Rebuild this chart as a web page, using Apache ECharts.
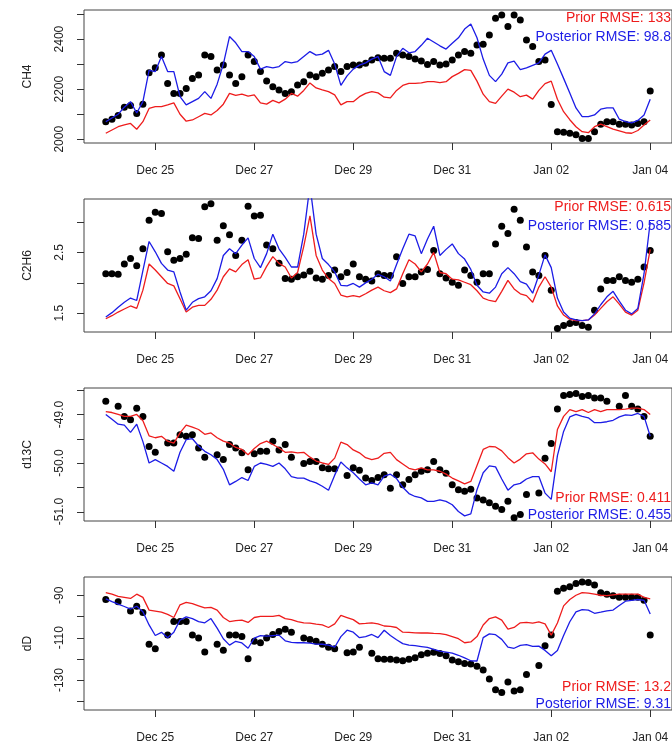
<!DOCTYPE html>
<html>
<head>
<meta charset="utf-8">
<script src="https://cdn.jsdelivr.net/npm/echarts@6/dist/echarts.min.js"></script>
<style>
  html, body { margin: 0; padding: 0; background: #fff; }
  #chart { width: 672px; height: 744px; }
</style>
</head>
<body>
<div id="chart"></div>
<script>
// x is days since Dec 24 00:00, one value every 3 hours
const tickDays = [1, 3, 5, 7, 9, 11];
const tickLabels = ['Dec 25', 'Dec 27', 'Dec 29', 'Dec 31', 'Jan 02', 'Jan 04'];

// CH4
const ch4Obs = [2070,2080,2095,2128,2135,2103,2140,2265,2285,2336,2223,2183,2183,2203,2243,2256,2336,2330,2276,2296,2256,2223,2250,2336,2310,2270,2233,2210,2197,2183,2190,2217,2230,2256,2250,2263,2276,2290,2270,2290,2296,2296,2303,2316,2325,
  2323,2323,2343,2336,2330,2320,2312,2298,2310,2296,2300,2316,2336,2350,2343,2376,2379,2416,2483,2496,2450,2496,2476,2396,2370,2310,2316,2139,2030,2028,2024,2018,2003,2003,2030,2060,2070,2070,2060,2060,2057,2063,2070,2193];
const ch4Prior = [2024,2037,2050,2057,2063,2040,2070,2123,2130,2130,2137,2145,2100,2072,2077,2090,2103,2097,2115,2140,2183,2175,2180,2172,2177,2145,2140,2155,2145,2160,2183,2172,2195,2225,2205,2197,2190,2177,2137,2150,2150,2170,2183,2190,2185,
  2168,2165,2195,2215,2223,2223,2225,2230,2230,2226,2230,2250,2263,2278,2275,2232,2180,2150,2143,2172,2200,2188,2170,2176,2160,2195,2222,2232,2160,2110,2078,2050,2030,2026,2050,2060,2050,2040,2033,2026,2024,2035,2057,2077];
const ch4Post = [2070,2085,2100,2128,2150,2105,2150,2275,2270,2330,2270,2270,2170,2137,2150,2163,2190,2163,2220,2300,2410,2385,2350,2350,2330,2280,2290,2285,2290,2310,2305,2310,2330,2350,2336,2340,2355,2300,2215,2253,2280,2296,2305,2320,2330,
  2270,2255,2330,2363,2345,2350,2375,2403,2388,2373,2360,2383,2405,2440,2460,2405,2320,2255,2230,2260,2305,2312,2278,2285,2295,2305,2340,2355,2300,2243,2185,2125,2090,2090,2097,2120,2125,2125,2080,2070,2065,2075,2097,2160];

// C2H6
const c2h6Obs = [2.15,2.15,2.14,2.31,2.40,2.28,2.56,3.03,3.16,3.14,2.51,2.37,2.40,2.47,2.74,2.73,3.25,3.30,2.70,2.94,2.79,2.45,2.70,3.26,3.10,3.11,2.62,2.56,2.32,2.07,2.06,2.10,2.13,2.19,2.08,2.06,2.12,2.21,2.10,2.17,2.31,2.10,2.06,2.03,2.15,
  2.12,2.12,2.43,1.99,2.10,2.10,2.18,2.22,2.53,2.15,2.08,2.01,1.96,2.21,2.12,2.01,2.15,2.15,2.64,2.93,2.81,3.21,3.03,2.59,2.18,2.12,2.45,1.88,1.25,1.30,1.33,1.35,1.30,1.27,1.55,1.90,2.04,2.04,2.10,2.04,2.01,2.06,2.26,2.53];
const c2h6Prior = [1.41,1.46,1.52,1.57,1.62,1.58,1.88,2.31,2.21,2.10,1.99,1.95,1.74,1.52,1.60,1.63,1.63,1.73,1.88,2.10,2.23,2.18,2.30,2.38,2.06,2.08,2.27,2.43,2.32,2.26,2.08,2.17,2.60,3.10,2.45,2.21,2.07,1.99,1.80,1.77,1.79,1.77,1.82,1.88,1.93,
  1.87,1.84,1.90,2.15,2.38,2.31,2.18,2.31,2.50,2.17,2.15,2.06,2.05,2.01,1.97,1.87,1.75,1.71,1.69,1.86,2.04,1.90,1.82,1.79,1.68,1.93,2.10,1.93,1.62,1.47,1.40,1.38,1.38,1.39,1.47,1.58,1.69,1.77,1.65,1.52,1.47,1.55,2.00,2.55];
const c2h6Post = [1.44,1.51,1.60,1.68,1.75,1.71,2.20,2.68,2.51,2.32,2.21,2.18,1.85,1.55,1.68,1.74,1.77,1.87,2.07,2.45,2.56,2.48,2.62,2.74,2.40,2.25,2.48,2.80,2.56,2.42,2.26,2.26,2.80,3.60,2.80,2.40,2.30,2.18,1.96,1.95,1.99,1.93,2.00,2.06,2.14,
  2.10,2.03,2.30,2.56,2.80,2.77,2.48,2.72,2.93,2.45,2.55,2.64,2.48,2.39,2.22,1.96,1.85,1.83,1.93,2.15,2.25,2.15,2.02,1.98,1.83,2.13,2.46,2.25,1.75,1.52,1.42,1.39,1.38,1.39,1.49,1.64,1.77,1.86,1.70,1.55,1.49,1.58,2.15,3.00];

// d13C
const d13cObs = [-48.73,null,-48.83,-49.04,-49.11,-48.87,-49.04,-49.66,-49.78,null,-49.59,-49.59,-49.42,-49.45,-49.42,-49.69,-49.88,null,-49.83,-49.93,-49.62,-49.69,-49.79,-50.14,-49.81,-49.76,-49.76,-49.55,-49.73,-49.62,-49.88,null,-50.01,-49.97,-49.97,-50.10,-50.12,-50.12,null,-50.26,-50.10,-50.15,-50.31,-50.36,-50.30,
  -50.24,-50.52,-50.24,-50.45,-50.34,-50.24,-50.17,-50.14,-49.97,-50.14,-50.21,-50.45,-50.55,-50.58,-50.54,-50.72,-50.76,-50.82,-50.89,-50.96,-50.79,-51.13,-51.06,-50.65,null,-50.62,-49.90,-49.60,-48.89,-48.61,-48.59,-48.57,-48.63,-48.61,-48.66,-48.66,-48.73,null,-48.83,-48.61,-48.83,-48.89,-49.04,-49.45];
const d13cPrior = [-48.94,-48.96,-49.00,-49.04,-49.04,-49.00,-49.13,-49.44,-49.48,-49.45,-49.55,-49.59,-49.38,-49.22,-49.26,-49.31,-49.41,-49.38,-49.48,-49.55,-49.59,-49.68,-49.72,-49.83,-49.70,-49.60,-49.55,-49.62,-49.69,-49.78,-49.77,-49.79,-49.78,-49.88,-49.96,-50.00,-50.03,-49.90,-49.57,-49.62,-49.73,-49.79,-49.89,-49.93,-49.90,
  -49.80,-49.78,-49.93,-50.02,-50.11,-50.14,-50.10,-50.14,-50.14,-50.17,-50.23,-50.31,-50.37,-50.43,-50.38,-50.05,-49.72,-49.66,-49.67,-49.75,-49.89,-50.00,-49.92,-49.81,-49.79,-49.92,-50.02,-50.18,-49.31,-49.04,-48.90,-48.94,-48.90,-48.96,-48.90,-48.94,-48.90,-48.90,-48.90,-48.89,-48.87,-48.87,-48.90,-49.00];
const d13cPost = [-49.00,-49.10,-49.20,-49.22,-49.37,-49.20,-49.56,-50.00,-49.93,-50.00,-50.07,-50.17,-49.78,-49.52,-49.50,-49.65,-49.76,-49.83,-49.93,-50.13,-50.45,-50.38,-50.30,-50.36,-50.07,-50.00,-50.03,-50.07,-50.00,-50.12,-50.28,-50.31,-50.31,-50.37,-50.41,-50.48,-50.56,-50.25,-49.98,-50.10,-50.20,-50.33,-50.45,-50.41,-50.45,
  -50.27,-50.23,-50.32,-50.50,-50.63,-50.69,-50.72,-50.79,-50.79,-50.76,-50.79,-50.86,-51.00,-51.09,-51.05,-50.55,-50.20,-50.06,-50.08,-50.33,-50.56,-50.45,-50.42,-50.33,-50.28,-50.28,-50.62,-50.75,-49.85,-49.35,-49.05,-49.00,-49.04,-49.07,-49.17,-49.17,-49.15,-49.12,-49.05,-49.01,-49.02,-48.98,-49.04,-49.45];

// dD
const ddObs = [-92.0,null,-93.1,null,-97.4,-95.2,-98.1,-113.1,-115.2,null,-108.8,-102.4,-102.4,-102.4,-108.8,-110.2,-116.7,null,-113.1,-115.9,-108.8,-108.8,-109.5,-119.9,-111.7,-112.4,-110.2,-108.5,-107.1,-106.0,-107.4,null,-110.2,-110.9,-111.7,-113.1,-114.5,-115.2,null,-117.1,-116.7,-114.5,null,-117.4,-119.9,
  -120.2,-120.2,-120.5,-120.9,-120.2,-119.5,-118.1,-117.4,-116.9,-117.5,-118.5,-120.5,-121.4,-122.2,-122.4,-123.5,-125.2,-129.5,-134.5,-135.9,-130.9,-135.2,-134.5,-127.4,null,-123.1,-113.8,-108.8,-88.1,-86.7,-86.0,-84.5,-83.8,-84.0,-85.2,-88.8,-89.5,-90.2,-91.0,-91.0,-91.0,-91.0,-92.4,-108.8];
const ddPrior = [-88.8,-89.5,-90.5,-91.0,-91.5,-89.5,-91.0,-97.0,-97.5,-98.0,-99.0,-100.5,-94.5,-93.4,-94.0,-95.0,-96.0,-95.7,-97.0,-100.5,-102.4,-102.0,-101.7,-102.8,-100.5,-100.0,-100.0,-100.0,-99.5,-101.0,-101.5,-102.4,-103.0,-103.1,-103.6,-104.0,-105.2,-103.5,-99.5,-100.5,-101.5,-103.5,-103.3,-103.0,-103.5,
  -104.5,-104.7,-105.2,-107.4,-107.5,-107.7,-107.8,-107.8,-108.0,-108.1,-108.6,-109.5,-110.5,-112.4,-112.0,-109.5,-104.0,-101.0,-100.2,-101.7,-106.0,-105.2,-103.0,-102.8,-103.1,-102.6,-103.5,-108.8,-103.1,-95.0,-92.0,-90.0,-88.8,-89.0,-89.5,-90.0,-90.2,-89.8,-89.5,-89.5,-89.5,-89.5,-91.0,-91.7];
const ddPost = [-91.7,-93.0,-94.2,-95.3,-96.5,-95.2,-97.8,-104.0,-109.0,-107.5,-110.0,-107.4,-101.7,-100.2,-101.0,-102.4,-103.0,-101.0,-105.5,-110.5,-113.5,-111.7,-112.5,-115.0,-110.2,-109.0,-109.3,-109.0,-108.8,-111.5,-112.2,-112.4,-112.4,-112.6,-113.0,-113.1,-113.5,-114.5,-109.5,-106.5,-107.4,-110.0,-109.5,-108.5,-110.0,
  -106.5,-109.0,-111.0,-112.8,-113.5,-113.8,-114.2,-114.6,-115.5,-116.3,-116.8,-117.3,-118.3,-119.5,-120.9,-121.0,-110.0,-108.2,-108.6,-110.8,-114.5,-115.0,-113.6,-113.3,-114.1,-114.0,-116.0,-118.5,-116.0,-109.0,-102.5,-97.8,-96.8,-97.0,-98.5,-98.0,-97.4,-97.0,-94.8,-92.8,-92.4,-92.0,-92.4,-98.8];

const panelNames = ['CH4', 'C2H6', 'd13C', 'dD'];
const panelObs = [ch4Obs, c2h6Obs, d13cObs, ddObs];
const panelPrior = [ch4Prior, c2h6Prior, d13cPrior, ddPrior];
const panelPost = [ch4Post, c2h6Post, d13cPost, ddPost];
const yRanges = [[1985, 2516], [1.192, 3.378], [-51.195, -48.455], [-144.1, -81.4]];
const yTicks = [
  [2000, 2100, 2200, 2300, 2400, 2500],
  [1.5, 2.0, 2.5, 3.0],
  [-51.0, -50.5, -50.0, -49.5, -49.0, -48.5],
  [-140, -130, -120, -110, -100, -90]
];
const yLabels = [
  [2000, 2200, 2400],
  [1.5, 2.5],
  [-51.0, -50.0, -49.0],
  [-130, -110, -90]
];
const yDigits = [0, 1, 1, 0];
const priorRmse = ['133', '0.615', '0.411', '13.2'];
const postRmse = ['98.8', '0.585', '0.455', '9.31'];

const RED = '#ee1c1c';
const BLUE = '#1c1ce6';
const AXIS = '#333';
const FONT = '"Liberation Sans", Arial, sans-serif';
const gridLeft = 84;
const gridTops = [10, 199, 388, 577];
const gridH = 133;
const tickLen = 7;

function pairs(arr) {
  const out = [];
  arr.forEach((v, i) => { if (v !== null) out.push([i / 8, v]); });
  return out;
}

const grid = [], xAxis = [], yAxis = [], series = [];

panelNames.forEach((name, k) => {
  grid.push({ left: gridLeft, right: -5, top: gridTops[k], height: gridH, show: true,
    borderColor: '#444', borderWidth: 1, backgroundColor: 'transparent' });

  xAxis.push({
    type: 'value', gridIndex: k, min: -0.44, max: 11.44,
    splitLine: { show: false },
    axisLine: { show: false, onZero: false },
    axisTick: { show: false },
    axisLabel: {
      customValues: tickDays, margin: 22, color: '#222', fontSize: 12, fontFamily: FONT,
      formatter: v => tickLabels[tickDays.indexOf(v)]
    }
  });

  yAxis.push({
    type: 'value', gridIndex: k, min: yRanges[k][0], max: yRanges[k][1],
    name: name, nameLocation: 'middle', nameRotate: 90, nameGap: 50,
    nameTextStyle: { color: '#222', fontSize: 12, fontFamily: FONT },
    splitLine: { show: false },
    axisLine: { show: false, onZero: false },
    axisTick: { show: false },
    axisLabel: {
      customValues: yLabels[k], rotate: 90, margin: 18, color: '#222', fontSize: 12, fontFamily: FONT,
      formatter: v => v.toFixed(yDigits[k])
    }
  });

  series.push({
    type: 'scatter', xAxisIndex: k, yAxisIndex: k, data: pairs(panelObs[k]),
    symbolSize: 7, itemStyle: { color: '#000', opacity: 1 }, z: 2, silent: true
  });
  series.push({
    type: 'line', xAxisIndex: k, yAxisIndex: k, data: pairs(panelPrior[k]),
    showSymbol: false, lineStyle: { color: RED, width: 1.3 }, z: 3, silent: true, clip: true
  });
  series.push({
    type: 'line', xAxisIndex: k, yAxisIndex: k, data: pairs(panelPost[k]),
    showSymbol: false, lineStyle: { color: BLUE, width: 1.3 }, z: 4, silent: true, clip: true
  });
});

const chart = echarts.init(document.getElementById('chart'), null, { renderer: 'canvas' });
chart.setOption({
  animation: false,
  backgroundColor: '#fff',
  grid, xAxis, yAxis, series
});

// tick marks (placed through the axes' own scales) and the RMSE notes
const graphic = [];
panelNames.forEach((name, k) => {
  const bottom = gridTops[k] + gridH;
  tickDays.forEach(d => {
    const px = Math.round(chart.convertToPixel({ xAxisIndex: k }, d)) + 0.5;
    graphic.push({ type: 'line', silent: true, z: 10,
      shape: { x1: px, y1: bottom, x2: px, y2: bottom + tickLen },
      style: { stroke: AXIS, lineWidth: 1 } });
  });
  yTicks[k].forEach(v => {
    const py = Math.round(chart.convertToPixel({ yAxisIndex: k }, v)) + 0.5;
    graphic.push({ type: 'line', silent: true, z: 10,
      shape: { x1: gridLeft - tickLen, y1: py, x2: gridLeft, y2: py },
      style: { stroke: AXIS, lineWidth: 1 } });
  });

  // RMSE notes: top right for first two panels, bottom right for the others
  const top = k < 2;
  const y1 = top ? gridTops[k] + 8 : bottom - 23;
  const y2 = top ? gridTops[k] + 27 : bottom - 6;
  graphic.push({ type: 'text', x: 671, y: y1, z: 10,
    style: { text: 'Prior RMSE: ' + priorRmse[k], fill: RED, align: 'right', verticalAlign: 'middle', font: '14px ' + FONT } });
  graphic.push({ type: 'text', x: 671, y: y2, z: 10,
    style: { text: 'Posterior RMSE: ' + postRmse[k], fill: BLUE, align: 'right', verticalAlign: 'middle', font: '14px ' + FONT } });
});
chart.setOption({ graphic });
</script>
</body>
</html>
